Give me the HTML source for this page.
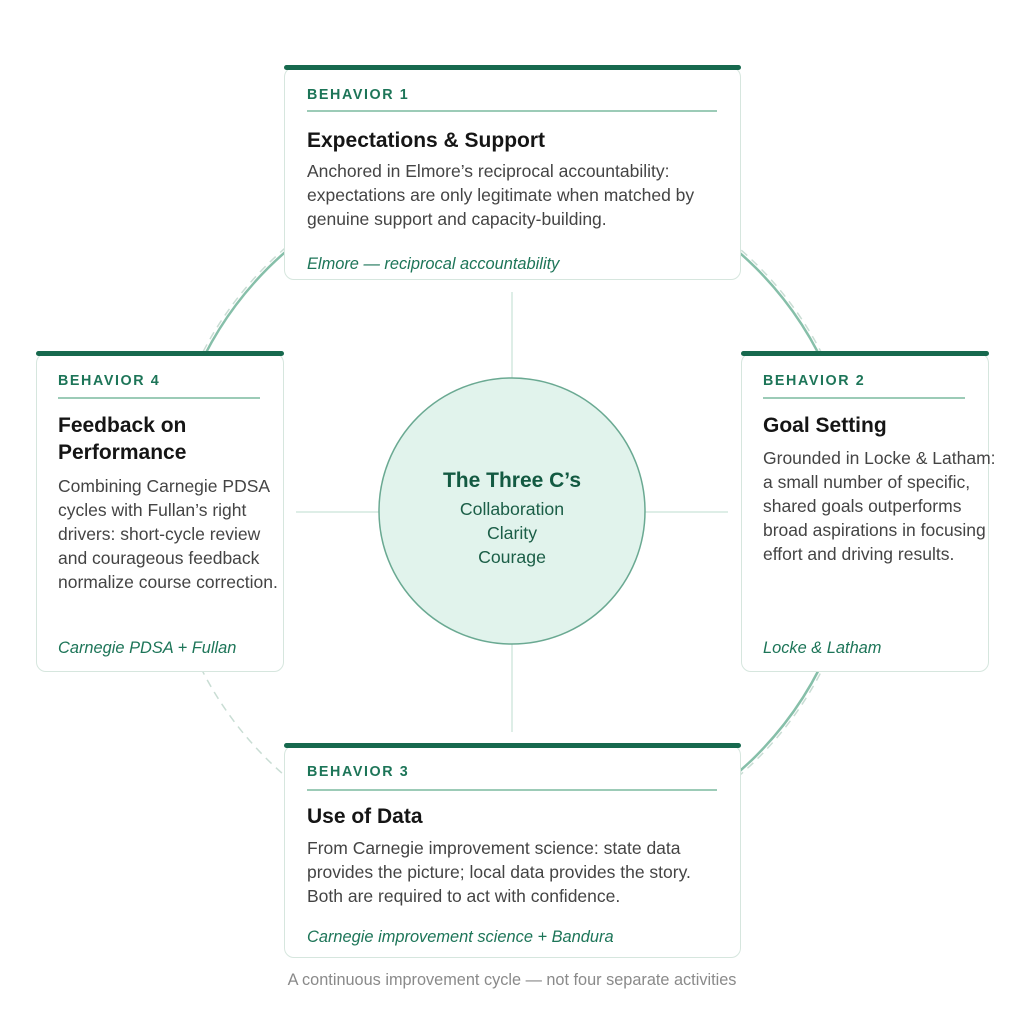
<!DOCTYPE html>
<html><head><meta charset="utf-8"><style>
body{margin:0;width:1024px;height:1024px;background:#fff;position:relative;overflow:hidden;font-family:"Liberation Sans",sans-serif}
.card{position:absolute;background:#fff;border:1.5px solid #d6e6de;border-radius:10px;box-sizing:border-box}
.bar{position:absolute;left:-1px;right:-1px;top:-3px;height:5px;background:#17694e;border-radius:3px}
.t{position:absolute;white-space:nowrap}
.lab{font-size:14.3px;font-weight:bold;letter-spacing:1.6px;color:#1d7558;line-height:20px}
.ln{position:absolute;height:1.5px;background:#9ccbb7}
.ti{font-size:21px;font-weight:bold;color:#151515;line-height:27px}
.bd{font-size:17.5px;color:#444;line-height:24px}
.ci{font-size:16.4px;font-style:italic;color:#1d7558;line-height:20px}
</style></head><body>
<svg width="1024" height="1024" style="position:absolute;left:0;top:0">
<circle cx="512" cy="512" r="348" fill="none" stroke="#c9ddd4" stroke-width="1.5" stroke-dasharray="8 6"/>
<path d="M167 512 A345 345 0 0 1 512 167" fill="none" stroke="#86bfa9" stroke-width="2.5"/>
<path d="M512 167 A345 345 0 0 1 857 512" fill="none" stroke="#86bfa9" stroke-width="2.5"/>
<path d="M857 512 A345 345 0 0 1 512 857" fill="none" stroke="#86bfa9" stroke-width="2.5"/>
<line x1="512" y1="292" x2="512" y2="732" stroke="#d3e8df" stroke-width="1.5"/>
<line x1="296" y1="512" x2="728" y2="512" stroke="#d3e8df" stroke-width="1.5"/>
<circle cx="512" cy="511" r="133" fill="#e1f3ec" stroke="#6aa992" stroke-width="1.5"/>
<text x="512" y="487" text-anchor="middle" font-family="Liberation Sans" font-size="21" font-weight="bold" fill="#135a42">The Three C’s</text>
<text x="512" y="515" text-anchor="middle" font-family="Liberation Sans" font-size="17.7" fill="#1b5e47">Collaboration</text>
<text x="512" y="539" text-anchor="middle" font-family="Liberation Sans" font-size="17.7" fill="#1b5e47">Clarity</text>
<text x="512" y="563" text-anchor="middle" font-family="Liberation Sans" font-size="17.7" fill="#1b5e47">Courage</text>
</svg>

<div class="card" style="left:284px;top:67px;width:457px;height:213px"><div class="bar"></div>
<div class="t lab" style="left:22px;top:17px">BEHAVIOR 1</div>
<div class="ln" style="left:22px;width:410px;top:42px"></div>
<div class="t ti" style="left:22px;top:59px">Expectations &amp; Support</div>
<div class="t bd" style="left:22px;top:91px">Anchored in Elmore’s reciprocal accountability:<br>expectations are only legitimate when matched by<br>genuine support and capacity-building.</div>
<div class="t ci" style="left:22px;top:186px">Elmore — reciprocal accountability</div>
</div>

<div class="card" style="left:36px;top:353px;width:248px;height:319px"><div class="bar"></div>
<div class="t lab" style="left:21px;top:17px">BEHAVIOR 4</div>
<div class="ln" style="left:21px;width:202px;top:43px"></div>
<div class="t ti" style="left:21px;top:58px">Feedback on<br>Performance</div>
<div class="t bd" style="left:21px;top:120px">Combining Carnegie PDSA<br>cycles with Fullan’s right<br>drivers: short-cycle review<br>and courageous feedback<br>normalize course correction.</div>
<div class="t ci" style="left:21px;top:284px">Carnegie PDSA + Fullan</div>
</div>

<div class="card" style="left:741px;top:353px;width:248px;height:319px"><div class="bar"></div>
<div class="t lab" style="left:21px;top:17px">BEHAVIOR 2</div>
<div class="ln" style="left:21px;width:202px;top:43px"></div>
<div class="t ti" style="left:21px;top:58px">Goal Setting</div>
<div class="t bd" style="left:21px;top:92px">Grounded in Locke &amp; Latham:<br>a small number of specific,<br>shared goals outperforms<br>broad aspirations in focusing<br>effort and driving results.</div>
<div class="t ci" style="left:21px;top:284px">Locke &amp; Latham</div>
</div>

<div class="card" style="left:284px;top:745px;width:457px;height:213px"><div class="bar"></div>
<div class="t lab" style="left:22px;top:16px">BEHAVIOR 3</div>
<div class="ln" style="left:22px;width:410px;top:43px"></div>
<div class="t ti" style="left:22px;top:57px">Use of Data</div>
<div class="t bd" style="left:22px;top:90px">From Carnegie improvement science: state data<br>provides the picture; local data provides the story.<br>Both are required to act with confidence.</div>
<div class="t ci" style="left:22px;top:181px">Carnegie improvement science + Bandura</div>
</div>

<div class="t" style="left:0;width:1024px;text-align:center;top:970px;font-size:16.3px;color:#8a8a8a;line-height:20px">A continuous improvement cycle — not four separate activities</div>
</body></html>
